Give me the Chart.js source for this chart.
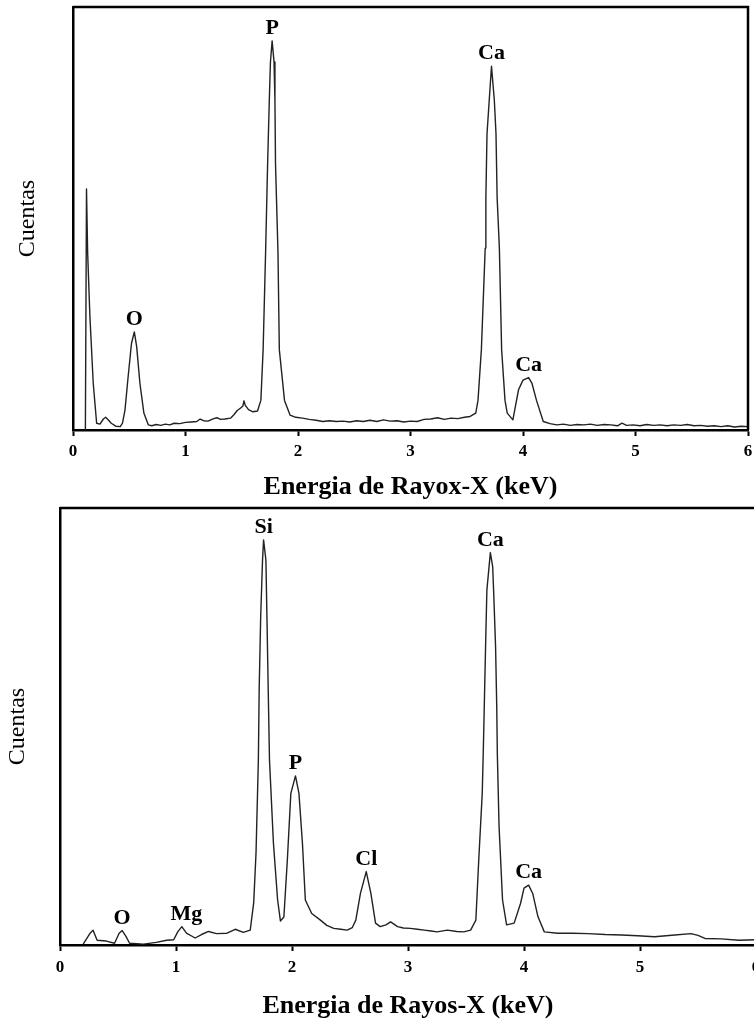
<!DOCTYPE html>
<html>
<head>
<meta charset="utf-8">
<script src="https://cdn.jsdelivr.net/npm/chart.js@4.4.1/dist/chart.umd.min.js"></script>
<style>
html, body { margin: 0; padding: 0; background: #fff; overflow: hidden; width: 754px; height: 1019px; }
#topChart { position: absolute; left: 0; top: 0; }
#bottomChart { position: absolute; left: 0; top: 500px; }
</style>
</head>
<body>
<canvas id="topChart" width="770" height="500"></canvas>
<canvas id="bottomChart" width="780" height="519"></canvas>
<script>
// spectrum 1 (top)
const topEnergy = [0.11, 0.12, 0.13, 0.15, 0.18, 0.21, 0.24, 0.27, 0.29, 0.31, 0.34, 0.38, 0.42, 0.44, 0.462, 0.49, 0.52, 0.545, 0.566, 0.595, 0.63, 0.67,
  0.7, 0.74, 0.78, 0.82, 0.86, 0.9, 0.95, 1.0, 1.05, 1.1, 1.13, 1.16, 1.2, 1.25, 1.28, 1.31, 1.35, 1.4, 1.43, 1.46, 1.49, 1.51, 1.52, 1.53, 1.56, 1.6,
  1.64, 1.67, 1.69, 1.712, 1.73, 1.745, 1.755, 1.77, 1.787, 1.795, 1.8, 1.822, 1.834, 1.88, 1.93, 1.98,
  2.04, 2.1, 2.16, 2.22, 2.28, 2.34, 2.4, 2.46, 2.52, 2.58, 2.64, 2.7, 2.76, 2.82, 2.88, 2.94, 3.0, 3.06, 3.12, 3.18, 3.24, 3.3, 3.36, 3.42, 3.48, 3.53,
  3.58, 3.6, 3.63, 3.664, 3.67, 3.68, 3.7, 3.72, 3.745, 3.76, 3.77, 3.79, 3.81, 3.84, 3.86, 3.91, 3.96, 4.0, 4.05, 4.08, 4.12, 4.18,
  4.24, 4.3, 4.36, 4.42, 4.48, 4.54, 4.6, 4.66, 4.72, 4.78, 4.84, 4.88, 4.92, 4.98, 5.04, 5.1, 5.16, 5.22, 5.28, 5.34, 5.4, 5.46, 5.52, 5.58, 5.64, 5.7, 5.76, 5.82, 5.88, 5.94, 6.0]
const topCounts = [0, 57, 42, 27, 11, 1.6, 1.4, 2.6, 3.0, 2.5, 1.6, 0.9, 0.8, 1.6, 4.7, 12.6, 20.5, 23.2, 19.7, 11, 4, 1.2,
  1.0, 1.3, 1.1, 1.4, 1.2, 1.6, 1.5, 1.8, 1.9, 2.0, 2.6, 2.2, 2.1, 2.7, 2.9, 2.5, 2.6, 2.8, 3.6, 4.6, 5.2, 5.7, 6.9, 5.9, 4.8, 4.3,
  4.5, 7, 19, 42, 63, 78, 87, 92, 87, 78, 63, 42, 19, 7, 3.5, 3.0,
  2.8, 2.5, 2.3, 2.0, 2.2, 2.0, 2.1, 1.9, 2.2, 2.0, 2.3, 2.0, 2.4, 2.1, 2.2, 1.9, 2.1, 2.0, 2.5, 2.6, 2.9, 2.5, 2.8, 2.7, 3.0, 3.2,
  4, 7, 19, 43, 55, 70, 78, 86, 78, 70, 55, 43, 19, 7, 4, 2.4, 9.5, 11.8, 12.4, 11, 7, 2,
  1.5, 1.2, 1.4, 1.1, 1.3, 1.2, 1.4, 1.1, 1.3, 1.2, 1.0, 1.6, 1.1, 1.2, 1.0, 1.3, 1.1, 1.2, 1.0, 1.2, 1.1, 1.3, 1.0, 1.1, 0.9, 1.0, 0.8, 1.0, 0.7, 0.9, 0.8]
const topPeakNames = ['O', 'P', 'Ca', 'Ca']
const topPeakEnergy = [0.545, 1.77, 3.72, 4.05]

// spectrum 2 (bottom)
const bottomEnergy = [0.2, 0.26, 0.285, 0.32, 0.4, 0.47, 0.51, 0.536, 0.57, 0.6, 0.72, 0.83, 0.92, 0.98, 1.015, 1.05, 1.09, 1.165, 1.22, 1.28, 1.35, 1.44, 1.51, 1.58, 1.64,
  1.67, 1.69, 1.71, 1.717, 1.73, 1.746, 1.755, 1.775, 1.784, 1.795, 1.806, 1.84, 1.876, 1.9, 1.93, 1.96, 1.99, 2.03, 2.06, 2.09, 2.115, 2.17, 2.245,
  2.3, 2.36, 2.42, 2.475, 2.52, 2.55, 2.59, 2.64, 2.68, 2.72, 2.76, 2.81, 2.85, 2.91, 2.96, 3.02, 3.08, 3.14, 3.2, 3.25, 3.34, 3.42, 3.48, 3.54,
  3.585, 3.61, 3.64, 3.65, 3.66, 3.67, 3.68, 3.71, 3.73, 3.74, 3.755, 3.765, 3.77, 3.785, 3.815, 3.85, 3.915, 3.97, 4.0, 4.04, 4.075, 4.12, 4.175,
  4.29, 4.42, 4.55, 4.7, 4.84, 4.98, 5.125, 5.3, 5.44, 5.5, 5.56, 5.7, 5.85, 6.0]
const bottomCounts = [0.2, 2.7, 3.4, 1.1, 0.9, 0.4, 2.7, 3.3, 1.9, 0.4, 0.2, 0.6, 1.1, 1.2, 3.0, 4.2, 2.7, 1.6, 2.4, 3.1, 2.6, 2.7, 3.6, 2.9, 3.4,
  9.7, 21.2, 42.3, 58.4, 75.1, 88.1, 92.7, 88.1, 75.1, 58.4, 42.3, 23.3, 10.3, 5.5, 6.4, 19.5, 34.7, 38.7, 34.7, 23.3, 10.3, 7.2, 5.7,
  4.5, 3.8, 3.6, 3.4, 4.0, 5.7, 11.8, 16.8, 11.8, 5.0, 4.2, 4.6, 5.3, 4.2, 3.9, 3.8, 3.6, 3.4, 3.2, 3.0, 3.4, 3.1, 3.0, 3.4,
  5.7, 19.5, 34.7, 45.4, 57.6, 69.8, 81.2, 89.8, 86.6, 79.7, 68.2, 54.5, 43.9, 27.1, 10.3, 4.6, 5.0, 9.5, 13.0, 13.7, 11.8, 6.5, 3.0,
  2.7, 2.7, 2.6, 2.4, 2.3, 2.1, 1.9, 2.3, 2.6, 2.2, 1.5, 1.4, 1.1, 1.2]
const bottomPeakNames = ['O', 'Mg', 'Si', 'P', 'Cl', 'Ca', 'Ca']
const bottomPeakEnergy = [0.536, 1.09, 1.755, 2.03, 2.64, 3.71, 4.04]

const serif = 'Liberation Serif'

// box lines on top and right + element names above peaks
const decorPlugin = {
  id: 'decor',
  afterDraw(chart) {
    const {ctx, chartArea: a, scales} = chart
    const peaks = chart.options.plugins.decor
    ctx.save()
    ctx.strokeStyle = '#000'
    ctx.lineWidth = 2.5
    ctx.beginPath()
    ctx.moveTo(a.left, a.top)
    ctx.lineTo(a.right, a.top)
    ctx.lineTo(a.right, a.bottom)
    ctx.stroke()

    ctx.fillStyle = '#000'
    ctx.font = 'bold 22px "' + serif + '"'
    ctx.textAlign = 'center'
    ctx.textBaseline = 'alphabetic'
    const data = chart.data.datasets[0].data
    peaks.names.forEach((name, i) => {
      const e = peaks.energy[i]
      let top = 0
      data.forEach(p => { if (Math.abs(p.x - e) < 0.06 && p.y > top) top = p.y })
      const x = scales.x.getPixelForValue(e)
      const y = scales.y.getPixelForValue(top)
      ctx.fillText(name, x, y - 7)
    })
    ctx.restore()
  }
}

function makeChart(id, energy, counts, names, peakEnergy, cfg) {
  const points = energy.map((e, i) => ({x: e, y: counts[i]}))
  return new Chart(document.getElementById(id), {
    type: 'line',
    data: {
      datasets: [{
        data: points,
        borderColor: '#222',
        borderWidth: 1.4,
        borderJoinStyle: 'round',
        pointRadius: 0,
        tension: 0,
        fill: false
      }]
    },
    options: {
      responsive: false,
      animation: false,
      layout: {padding: cfg.padding},
      plugins: {
        legend: {display: false},
        tooltip: {enabled: false},
        decor: {names: names, energy: peakEnergy}
      },
      scales: {
        x: {
          type: 'linear',
          min: 0,
          max: 6,
          afterFit(scale) { scale.height = cfg.xHeight },
          ticks: {
            stepSize: 1,
            color: '#000',
            padding: cfg.tickPad,
            maxRotation: 0,
            font: {family: serif, size: 17, weight: 'bold'}
          },
          grid: {drawOnChartArea: false, drawTicks: true, tickLength: 6, tickColor: '#000', tickWidth: 2},
          border: {display: true, color: '#000', width: 2.5},
          title: {
            display: true,
            text: cfg.xTitle,
            color: '#000',
            padding: 0,
            font: {family: serif, size: 26, weight: 'bold', lineHeight: 1.0}
          }
        },
        y: {
          min: 0,
          max: 100,
          afterFit(scale) { scale.width = cfg.yWidth },
          ticks: {display: false},
          grid: {drawOnChartArea: false, drawTicks: false},
          border: {display: true, color: '#000', width: 2.5},
          title: {
            display: true,
            text: 'Cuentas',
            color: '#000',
            padding: {top: cfg.yTitlePad, bottom: 0},
            font: {family: serif, size: 24}
          }
        }
      }
    },
    plugins: [decorPlugin]
  })
}

makeChart('topChart', topEnergy, topCounts, topPeakNames, topPeakEnergy, {
  padding: {top: 7, right: 22, left: 0, bottom: 0},
  xHeight: 70, yWidth: 73, tickPad: 5, yTitlePad: 13,
  xTitle: 'Energia de Rayox-X (keV)'
})

makeChart('bottomChart', bottomEnergy, bottomCounts, bottomPeakNames, bottomPeakEnergy, {
  padding: {top: 8, right: 24, left: 0, bottom: 0},
  xHeight: 74, yWidth: 60, tickPad: 6, yTitlePad: 3,
  xTitle: 'Energia de Rayos-X (keV)'
})
</script>
</body>
</html>
